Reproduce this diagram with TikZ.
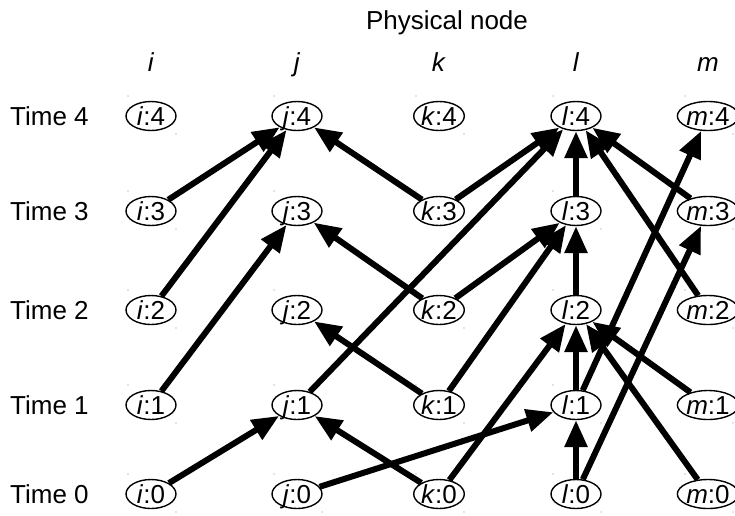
\documentclass[tikz,border=0pt]{standalone}
\usepackage{fontspec}
\setmainfont{Liberation Sans}
\usetikzlibrary{shapes.geometric,arrows.meta}
\begin{document}
\begin{tikzpicture}[x=1pt,y=-1pt,
  vnode/.style={ellipse,draw,line width=1.4pt,minimum width=50pt,minimum height=29pt,
    inner sep=0pt,text height=18.5pt,text depth=0pt,font=\fontsize{26}{26}\selectfont},
  link/.style={line width=6pt,-{Triangle[length=27pt,width=22pt]}},
  lbl/.style={font=\fontsize{26}{26}\selectfont},
  tick/.style={fill=black!45}]
\useasboundingbox (0,0) rectangle (735,515);

% headings
\node[lbl] (title) at (447,23) {Physical node};
\foreach \c/\x in {i/151,j/297,k/439,l/576,m/708}
  \node[lbl,anchor=base,inner sep=0pt] (h\c) at (\x,71) {\textit{\c}};
\foreach \t/\y in {4/116,3/211,2/310,1/405,0/494}
  \node[lbl,anchor=west,inner sep=0pt] (t\t) at (10,\y) {Time \t};

% time-expanded copies of each physical node
\foreach \c/\x in {i/151,j/297,k/439,l/576,m/708}
  \foreach \t/\y in {4/116,3/211,2/310,1/405,0/494} {
    \node[vnode] (\c\t) at (\x,\y) {\textit{\c}:\t};
    \fill[tick] (\x-23,\y-20) circle (0.7);
    \fill[tick] (\x+25,\y+18) circle (0.7);
  }

% links between copies
\foreach \a/\b in {i3/j4,i2/j4,i1/j3,i0/j1,
                   k3/j4,k2/j3,k1/j2,k0/j1,
                   j1/l4,k3/l4,k2/l3,k1/l3,k0/l2,j0/l1,
                   l3/l4,l2/l3,l1/l2,l0/l1,
                   l1/m4,l0/m3,
                   m3/l4,m2/l4,m1/l2,m0/l2}
  \draw[link] (\a) -- (\b);
\end{tikzpicture}
\end{document}
